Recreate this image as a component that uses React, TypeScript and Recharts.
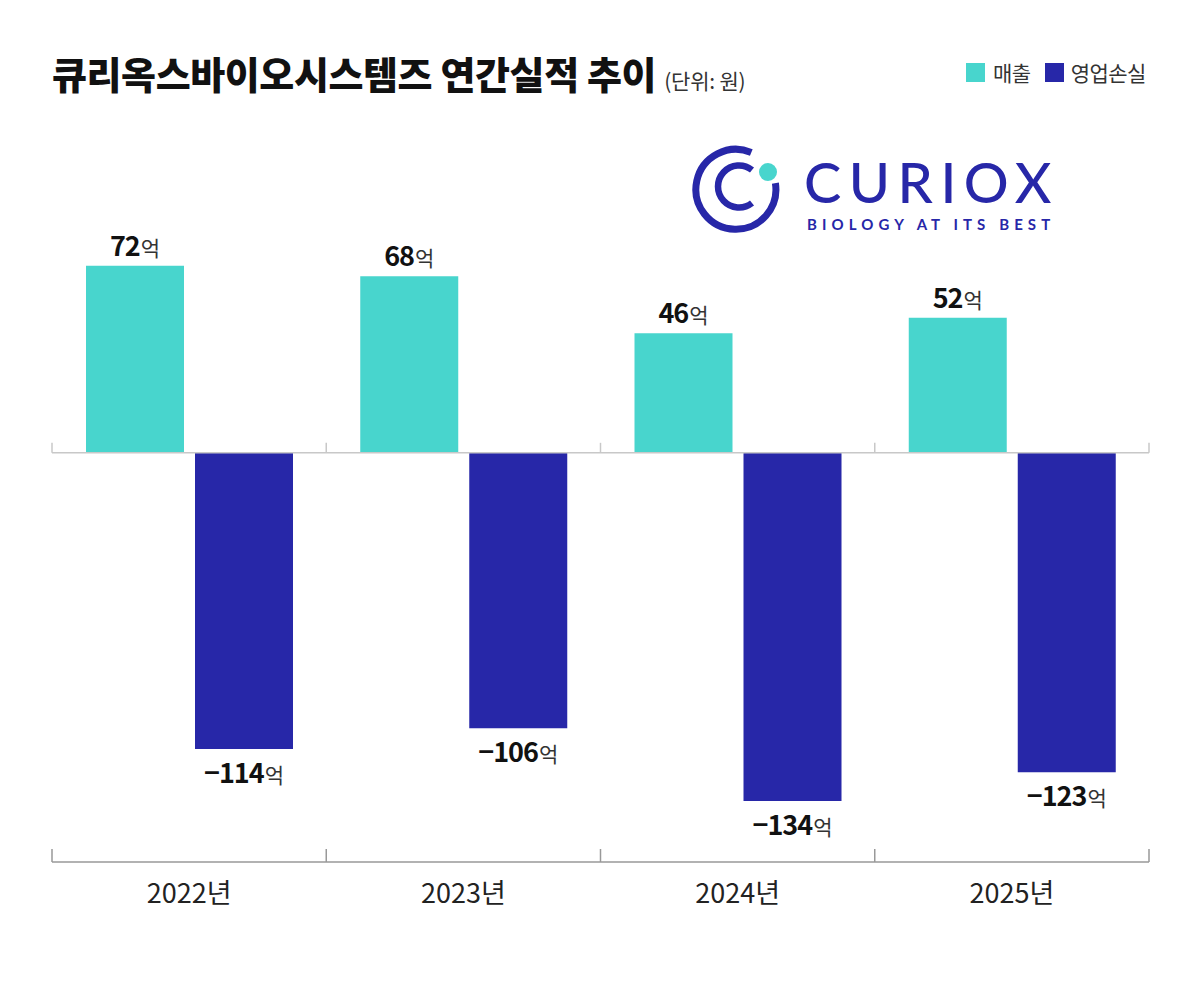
import React from 'react';
import { BarChart, Bar, XAxis, YAxis, ReferenceLine, LabelList } from 'recharts';

const categories = ['2022년', '2023년', '2024년', '2025년'];
const revenue = [72, 68, 46, 52];
const operatingLoss = [-114, -106, -134, -123];
const seriesNames = ['매출', '영업손실'];
const titleText = '큐리옥스바이오시스템즈 연간실적 추이';
const unitText = '(단위: 원)';

const data = categories.map((c, i) => ({ year: c, rev: revenue[i], loss: operatingLoss[i] }));

const TEAL = '#48D5CD';
const NAVY = '#2727A8';
const NARROW = "'Liberation Sans Narrow', 'Noto Sans CJK KR', sans-serif";
const KR = "'Noto Sans CJK KR', sans-serif";

const fmt = (v: number) => (v < 0 ? '\u2212' + Math.abs(v) : String(v));

const ValueLabel = (props: any) => {
  const { x, y, width, height, value } = props;
  const cx = x + width / 2;
  const neg = value < 0;
  const ty = neg ? Math.max(y, y + height) + 34 : Math.min(y, y + height) - 10;
  return (
    <text x={cx} y={ty} textAnchor="middle" style={{ fontFamily: NARROW }}>
      <tspan fontSize={27} fontWeight={700} fill="#111" letterSpacing={-1}>{fmt(value)}</tspan>
      <tspan fontSize={21} fontWeight={400} fill="#333" fontFamily={KR} dx={1}>억</tspan>
    </text>
  );
};

const ZeroLine = (props: any) => {
  const { x1, x2, y1 } = props;
  const n = categories.length;
  const step = (x2 - x1) / n;
  const ticks = [];
  for (let i = 0; i <= n; i++) {
    const tx = x1 + step * i;
    ticks.push(<line key={i} x1={tx} x2={tx} y1={y1 - 10} y2={y1} stroke="#c8c8c8" strokeWidth={1.5} />);
  }
  return (
    <g>
      <line x1={x1} x2={x2} y1={y1} y2={y1} stroke="#c8c8c8" strokeWidth={1.5} />
      {ticks}
    </g>
  );
};

const BottomLine = (props: any) => {
  const { x1, x2, y1 } = props;
  const n = categories.length;
  const step = (x2 - x1) / n;
  const ticks = [];
  for (let i = 0; i <= n; i++) {
    const tx = x1 + step * i;
    ticks.push(<line key={i} x1={tx} x2={tx} y1={y1 - 13} y2={y1} stroke="#999" strokeWidth={1.5} />);
  }
  return (
    <g>
      <line x1={x1} x2={x2} y1={y1} y2={y1} stroke="#999" strokeWidth={1.5} />
      {ticks}
    </g>
  );
};

const YearTick = (props: any) => {
  const { x, y, payload } = props;
  return (
    <text x={x} y={y + 33} textAnchor="middle" fontSize={27} fill="#222" style={{ fontFamily: NARROW }}>
      {payload.value}
    </text>
  );
};

const Logo = () => (
  <svg width={400} height={130} style={{ position: 'absolute', left: 680, top: 130 }}>
    <path d="M 71.3 22.4 A 40 40 0 1 0 95.4 53.1" fill="none" stroke={NAVY} strokeWidth={7} strokeLinecap="butt" />
    <path d="M 72 40 A 21 21 0 1 0 72 73" fill="none" stroke={NAVY} strokeWidth={6.5} />
    <circle cx={88} cy={42} r={9} fill={TEAL} />
    <text x={124} y={73} fontSize={56} fontWeight={500} fill={NAVY} letterSpacing={7.5} style={{ fontFamily: "'Lato', sans-serif" }}>CURIOX</text>
    <text x={127} y={100} fontSize={15} fontWeight={700} fill={NAVY} letterSpacing={5.1} style={{ fontFamily: "'Lato', sans-serif" }}>BIOLOGY AT ITS BEST</text>
  </svg>
);

export default function App() {
  return (
    <div style={{ position: 'absolute', left: 0, top: 0, width: 1200, height: 999, background: '#fff', overflow: 'hidden' }}>
      <div style={{ position: 'absolute', left: 52, top: 45, whiteSpace: 'nowrap', fontFamily: KR, color: '#111' }}>
        <span style={{ fontSize: 38, fontWeight: 900, letterSpacing: -0.4 }}>{titleText}</span>
        <span style={{ fontSize: 21, fontWeight: 400, marginLeft: 8, letterSpacing: -0.2, color: '#333', fontFamily: NARROW }}>{unitText}</span>
      </div>
      <div style={{ position: 'absolute', left: 966, top: 57, display: 'flex', alignItems: 'center', fontFamily: KR, fontSize: 21, color: '#333', letterSpacing: -0.5 }}>
        <span style={{ display: 'inline-block', width: 19, height: 19, background: TEAL, marginRight: 8 }} />
        <span style={{ marginRight: 14 }}>{seriesNames[0]}</span>
        <span style={{ display: 'inline-block', width: 19, height: 19, background: NAVY, marginRight: 7 }} />
        <span>{seriesNames[1]}</span>
      </div>
      <Logo />
      <div style={{ position: 'absolute', left: 0, top: 0 }}>
        <BarChart
          width={1200}
          height={999}
          data={data}
          margin={{ top: 140, right: 51, bottom: 77, left: 52 }}
          barCategoryGap={34}
          barGap={11}
        >
          <XAxis dataKey="year" axisLine={false} tickLine={false} tick={<YearTick />} height={60} interval={0} />
          <YAxis hide domain={[-157.5, 120.4]} allowDataOverflow type="number" />
          <ReferenceLine y={0} shape={<ZeroLine />} ifOverflow="extendDomain" />
          <ReferenceLine y={-157.5} shape={<BottomLine />} />
          <Bar dataKey="rev" name={seriesNames[0]} fill={TEAL} isAnimationActive={false}>
            <LabelList dataKey="rev" content={<ValueLabel />} />
          </Bar>
          <Bar dataKey="loss" name={seriesNames[1]} fill={NAVY} isAnimationActive={false}>
            <LabelList dataKey="loss" content={<ValueLabel />} />
          </Bar>
        </BarChart>
      </div>
    </div>
  );
}
